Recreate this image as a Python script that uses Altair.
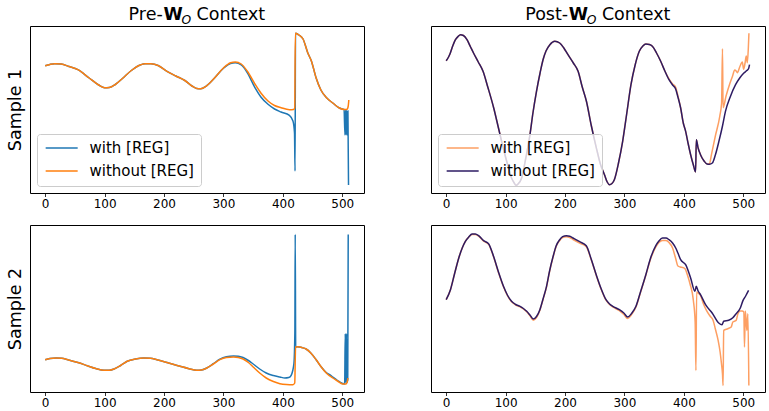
import altair as alt
import pandas as pd

FONT = "DejaVu Sans"
SERIES = ["with [REG]", "without [REG]"]
X_TICKS = [0, 100, 200, 300, 400, 500]
LEFT_COLORS = ["#1f77b4", "#ff7f0e"]
RIGHT_COLORS = ["#fd9f63", "#2d1b63"]

# ---------------- Sample 1, Pre-W_O ----------------
TL_WITHOUT_X = [0, 8, 16, 27, 40, 55, 74, 90, 100, 108, 118, 130, 145, 160, 168, 178, 190, 205, 220, 235,
                247, 255, 262, 272, 285, 300, 312, 320, 330, 340, 353, 363, 375, 386, 397, 411, 418, 420, 421, 423,
                427, 434, 442, 448, 456, 464, 474, 484, 495, 503, 508, 510, 511]
TL_WITHOUT_Y = [127.3, 128.6, 129.3, 129.0, 126.5, 123.3, 115.0, 108.0, 105.2, 105.5, 108.5, 114.5, 122.5, 128.0, 129.3, 129.2, 127.5, 121.7, 117.0, 112.5,
                107.0, 104.5, 104.3, 107.3, 115.0, 125.0, 130.2, 131.0, 129.0, 122.0, 109.0, 100.0, 92.0, 87.5, 85.3, 83.3, 83.5, 85.0, 159.7, 159.5,
                158.0, 154.0, 140.0, 132.0, 115.0, 103.0, 95.0, 90.0, 85.0, 83.5, 83.7, 87.0, 93.0]
TL_WITH_X = [0, 8, 16, 27, 40, 55, 74, 90, 100, 108, 118, 130, 145, 160, 168, 178, 190, 205, 220, 235,
             247, 255, 262, 272, 285, 300, 312, 320, 330, 340, 353, 363, 375, 386, 397, 411, 417, 419.6, 420.5, 421.3,
             423, 427, 434, 442, 448, 456, 464, 474, 484, 495, 503, 504.5, 505.5, 506.5, 507.5, 508.5, 509.5, 510.5]
TL_WITH_Y = [127.3, 128.6, 129.3, 129.0, 126.5, 123.3, 115.0, 108.0, 105.2, 105.5, 108.5, 114.5, 122.5, 128.0, 129.3, 129.2, 127.5, 121.7, 117.0, 112.5,
             107.0, 104.5, 104.3, 107.3, 115.0, 124.7, 129.6, 130.2, 128.0, 120.5, 105.3, 96.0, 88.7, 84.0, 81.0, 77.7, 72.0, 60.0, 22.0, 159.7,
             159.5, 158.0, 154.0, 140.0, 132.0, 115.0, 103.0, 95.0, 90.0, 85.0, 83.5, 58.0, 83.0, 58.0, 83.0, 58.0, 82.0, 8.0]

# ---------------- Sample 1, Post-W_O ----------------
TR_WITHOUT_X = [0, 4, 7, 11, 15.6, 20, 24, 29, 35, 41, 46, 54, 62, 70, 80, 88, 96, 104, 110, 114,
                117.6, 121, 127, 134, 141, 146, 152, 158, 163, 168, 174.5, 182.8, 191, 198, 205, 214, 222, 229, 236, 244,
                252.5, 260, 266.4, 271, 274.8, 279, 283, 290, 297, 304, 311, 318, 325, 331, 336, 342, 347, 354, 361, 368,
                375, 381, 386, 390, 394.6, 399, 403, 407, 411.4, 416, 419.7, 421, 424, 428, 434, 439, 443, 448, 453, 459,
                465, 470, 478, 487, 494, 501, 506, 509, 510.5]
TR_WITHOUT_Y = [132.3, 136, 140, 147, 153.3, 156.5, 158.3, 157.5, 153.3, 146, 140, 131, 121.7, 106, 85, 65, 45, 27, 15, 10.5,
                7.7, 9, 15, 35, 58.3, 80, 101.7, 120, 133.3, 142, 148.3, 151.7, 150, 145, 138.3, 130, 121.7, 106, 91.7, 68,
                45.7, 28, 18.3, 11, 8.3, 9.5, 13.3, 30, 51.7, 80, 108.3, 128, 141.7, 147, 149, 148.5, 146.7, 140, 131.7, 122,
                113.3, 108, 104.3, 96, 85, 70, 61.7, 50, 38.3, 28, 21, 53.3, 45, 38.3, 32, 29, 28.8, 30, 38, 51.7,
                67, 81.7, 96, 108.3, 115, 120, 122.5, 124.5, 128.3]
TR_WITH_X = [0, 4, 7, 11, 15.6, 20, 24, 29, 35, 41, 46, 54, 62, 70, 80, 88, 96, 104, 110, 114,
             117.6, 121, 127, 134, 141, 146, 152, 158, 163, 168, 174.5, 182.8, 191, 198, 205, 214, 222, 229, 236, 244,
             252.5, 260, 266.4, 271, 274.8, 279, 283, 290, 297, 304, 311, 318, 325, 331, 336, 342, 347, 354, 361, 368,
             375, 381, 386, 390, 394.6, 399, 403, 407, 411.4, 416, 419.7, 421, 424, 428, 434, 439, 443, 446.5, 453, 460.5,
             463.5, 465, 466, 471, 477, 482, 485.6, 488, 490, 494, 498.4, 500.6, 503, 505, 506.8, 508.5, 509.5]
TR_WITH_Y = [132.3, 136, 140, 147, 153.3, 156.5, 158.3, 157.5, 153.3, 146, 140, 131, 121.7, 106, 85, 65, 45, 27, 15, 10.5,
             7.7, 9, 15, 35, 58.3, 80, 101.7, 120, 133.3, 142, 148.3, 151.7, 150, 145, 138.3, 130, 121.7, 106, 91.7, 68,
             45.7, 28, 18.3, 11, 8.3, 9.5, 13.3, 30, 51.7, 80, 108.3, 128, 141.7, 147, 149, 148.5, 146.7, 140, 131.7, 122,
             114, 109, 106, 97, 85, 70, 61.7, 50, 38.3, 28, 21, 53.3, 45, 38.3, 32, 29, 29, 38.7, 57, 77,
             90, 144.3, 85.3, 97, 108.7, 117, 123, 122, 120.3, 126, 131, 123.7, 130, 137, 130.3, 145, 159.7]

# ---------------- Sample 2, Pre-W_O ----------------
BL_WITHOUT_X = [0, 8, 18.4, 28, 38, 55, 71, 85, 99, 108, 116, 127, 138, 152, 166, 177, 188, 205, 227, 242,
                255, 263, 272, 283, 294, 305, 317, 325, 333, 342, 350, 361, 372, 384, 395, 406, 417, 420, 421.4, 425,
                428, 433, 439, 447, 456, 464, 473, 484, 492, 500.5, 506, 508, 509.5]
BL_WITHOUT_Y = [32.3, 33.5, 34, 33.7, 32.3, 29.5, 26.3, 23.5, 21.7, 21.8, 23, 26.5, 30.7, 33, 34, 33.7, 32.3, 29.5, 25.7, 23.3,
                21.7, 22, 24, 28, 32.3, 34.5, 35, 34.5, 33, 29.5, 25, 19, 14, 10.5, 8.3, 7.5, 7.3, 9, 45, 45.2,
                45, 44.3, 43, 39, 32.3, 25.5, 19, 14, 11, 8, 8, 9.5, 14]
BL_WITH_X = [0, 8, 18.4, 28, 38, 55, 71, 85, 99, 108, 116, 127, 138, 152, 166, 177, 188, 205, 227, 242,
             255, 263, 272, 283, 294, 305, 317, 325, 333, 342, 350, 361, 372, 384, 395, 403.3, 410, 414, 418.6, 420.2,
             420.8, 421.6, 425, 428, 433, 439, 447, 456, 464, 473, 480, 484, 492, 500.5, 504, 505, 506, 507,
             508, 509.2, 510]
BL_WITH_Y = [32.3, 33.5, 34, 33.7, 32.3, 29.5, 26.3, 23.5, 21.7, 21.8, 23, 26.5, 30.7, 33, 34, 33.7, 32.3, 29.5, 25.7, 23.3,
             21.7, 22, 24, 28.3, 32.8, 35.2, 36, 35.8, 34.5, 31.5, 28, 23, 19, 16.5, 15, 14, 14.5, 16.7, 28.3, 60,
             157.6, 45, 45.2, 45, 44.3, 43, 39, 32.3, 25.5, 19.5, 16.8, 15, 11.5, 8.5, 8, 58.3, 9, 58.3,
             9.5, 12, 157.6]

# ---------------- Sample 2, Post-W_O ----------------
BR_WITHOUT_X = [0, 7.2, 14, 21.2, 27, 32.3, 38, 43.5, 49, 54.6, 63, 71.3, 79.7, 88, 96.4, 103, 110, 117, 124.3, 130,
                135.5, 141, 146.6, 152, 157.7, 163, 168.9, 174, 180, 185, 191, 196, 202.3, 208, 213.5, 224.6, 235.8, 244, 252.5, 261,
                269, 275, 280.4, 291.5, 299, 305.5, 312, 319.4, 327, 336, 344, 352.8, 358, 364, 370, 375, 381, 386.3, 390, 394.6,
                403, 411.4, 418.6, 420.8, 424, 428, 436.5, 447.6, 458.7, 464.2, 467, 475.5, 482.4, 486.6, 495, 499.6, 504, 509]
BR_WITHOUT_Y = [92.3, 102.3, 118, 134, 144, 150.7, 155, 158, 158, 156.3, 151.3, 148.3, 135.7, 120, 105.7, 97, 90.7, 87.5, 85.7, 83.5,
                80.7, 77, 73, 75.5, 82.3, 93, 105.7, 121, 135.7, 146, 152.3, 155.3, 156.3, 155.8, 154, 150.3, 146.3, 133, 117.3, 103,
                92.3, 88, 85.7, 82.3, 79, 75, 78.5, 85.7, 100, 117.3, 134, 146.3, 151, 154, 154, 152.3, 149, 144, 139, 132.3,
                127.3, 114, 100.7, 105.7, 101, 97.3, 87.3, 79, 69, 67.3, 70.7, 71.7, 74.3, 77.3, 84, 91.6, 96, 101.6]
BR_WITH_X = [0, 7.2, 14, 21.2, 27, 32.3, 38, 43.5, 49, 54.6, 63, 71.3, 79.7, 88, 96.4, 103, 110, 117, 124.3, 130,
             135.5, 141, 146.6, 152, 157.7, 163, 168.9, 174, 180, 185, 191, 196, 202.3, 208, 213.5, 224.6, 235.8, 244, 252.5, 261,
             269, 275, 280.4, 291.5, 299, 305.5, 312, 319.4, 327, 336, 344, 352.8, 358, 364, 370, 375, 381, 386, 390, 394,
             398, 402, 406, 410.3, 416, 419, 420.3, 421.5, 424, 428, 433, 438, 444, 449.3, 453, 457.7, 461, 463.3, 465, 466,
             467, 474, 479.7, 482.4, 488, 491, 495, 498, 501, 502, 503.5, 506, 507.7, 509.4]
BR_WITH_Y = [92.3, 102.3, 118, 134, 144, 150.7, 155, 157.5, 157.5, 155.8, 150.8, 147.8, 135.2, 119.5, 105.2, 96.5, 90.2, 87, 85.2, 83,
             80.2, 76.3, 71.8, 74.5, 81.8, 92.5, 105.2, 120.5, 135.2, 145.5, 151.5, 154.5, 155.3, 154.5, 152.5, 148.8, 145.3, 132.5, 116.8, 102.5,
             91.8, 87.5, 85, 81.3, 77.5, 73.5, 77.5, 85, 99.5, 116.8, 133, 145, 149.5, 151.6, 151.5, 149.5, 144, 134, 126, 125,
             124.5, 123.3, 117, 108.3, 91.6, 70, 21.6, 100, 99, 96.5, 88, 81.6, 76, 71.6, 63, 51.6, 40, 28.3, 18, 6.6,
             61.6, 63.3, 65, 70, 71.6, 78.3, 81, 81, 80, 45, 81, 61.6, 78.3, 6.6]

XSCALE = alt.Scale(domain=[-25.55, 536.55], nice=False, zero=False)
YSCALE = alt.Scale(domain=[0, 167], nice=False, zero=False)


def frame(wx, wy, ox, oy):
    return pd.concat([
        pd.DataFrame({"x": wx, "y": wy, "series": SERIES[0]}),
        pd.DataFrame({"x": ox, "y": oy, "series": SERIES[1]}),
    ], ignore_index=True)


def title_layers(prefix, xs):
    pieces = [
        (prefix, xs[0], -6, 17.5, "normal", "normal"),
        ("W", xs[1], -6, 17.5, "bold", "normal"),
        ("O", xs[2], -2.5, 12.25, "normal", "italic"),
        ("Context", xs[3], -6, 17.5, "normal", "normal"),
    ]
    out = []
    for txt, px, py, fs, fw, st in pieces:
        out.append(
            alt.Chart(pd.DataFrame({"t": [txt]}))
            .mark_text(align="left", baseline="alphabetic", font=FONT, fontSize=fs,
                       fontWeight=fw, fontStyle=st, color="black")
            .encode(x=alt.value(px), y=alt.value(py), text="t:N")
        )
    return out


def panel(df, colors, ylabel=None, legend=False, title=None):
    x = alt.X("x:Q", scale=XSCALE,
              axis=alt.Axis(values=X_TICKS, title=None, grid=False, domain=False,
                            tickColor="black", tickSize=3.5, tickWidth=0.8,
                            labelFontSize=12, labelColor="black", labelFont=FONT,
                            labelPadding=2, labelFlush=False, format="d"))
    if ylabel:
        yaxis = alt.Axis(title=ylabel, labels=False, ticks=False, domain=False, grid=False,
                         titleFont=FONT, titleFontSize=17.5, titleFontWeight="normal",
                         titleColor="black", titlePadding=6)
    else:
        yaxis = None
    y = alt.Y("y:Q", scale=YSCALE, axis=yaxis)
    if legend:
        leg = alt.Legend(title=None, orient="bottom-left", offset=7,
                         symbolType="M-1,0L5,0", symbolSize=113.8, symbolStrokeWidth=1.5,
                         labelFont=FONT, labelFontSize=15, labelColor="black",
                         labelOffset=31, labelLimit=400,
                         fillColor="rgba(255,255,255,0.8)", strokeColor="#cccccc", cornerRadius=3,
                         padding=6.5, rowPadding=7)
    else:
        leg = None
    color = alt.Color("series:N", scale=alt.Scale(domain=SERIES, range=colors), legend=leg)
    layers = []
    for s in SERIES:
        layers.append(
            alt.Chart(df).transform_filter(alt.datum.series == s)
            .mark_line(strokeWidth=1.5, interpolate="monotone")
            .encode(x=x, y=y, color=color)
        )
    if title:
        layers += title
    return alt.layer(*layers).properties(width=334, height=167)


tl = panel(frame(TL_WITH_X, TL_WITH_Y, TL_WITHOUT_X, TL_WITHOUT_Y), LEFT_COLORS,
           ylabel="Sample 1", legend=True,
           title=title_layers("Pre-", [98.6, 133.4, 151.4, 166.6]))
tr = panel(frame(TR_WITH_X, TR_WITH_Y, TR_WITHOUT_X, TR_WITHOUT_Y), RIGHT_COLORS,
           legend=True,
           title=title_layers("Post-", [94.2, 137.8, 155.7, 170.9]))
bl = panel(frame(BL_WITH_X, BL_WITH_Y, BL_WITHOUT_X, BL_WITHOUT_Y), LEFT_COLORS,
           ylabel="Sample 2")
br = panel(frame(BR_WITH_X, BR_WITH_Y, BR_WITHOUT_X, BR_WITHOUT_Y), RIGHT_COLORS)

chart = (
    alt.concat(tl, tr, bl, br, columns=2, spacing={"row": 32, "column": 67}, bounds="flush")
    .resolve_scale(color="independent")
    .properties(padding={"left": 5, "top": 5, "right": 3, "bottom": 5})
    .configure(font=FONT)
    .configure_view(stroke="black", strokeWidth=1)
)

chart.save("out.html", embed_options={"renderer": "svg", "actions": False})
